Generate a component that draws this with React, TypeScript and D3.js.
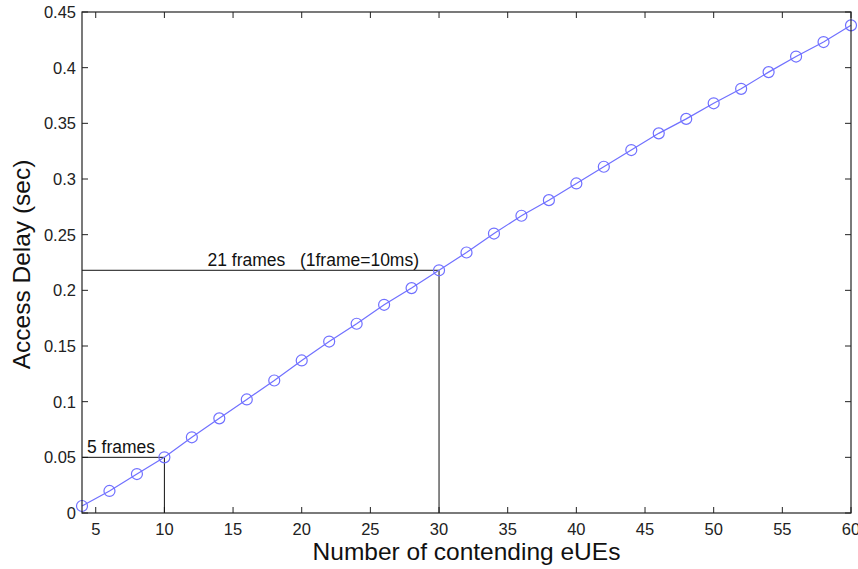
import React from 'react'
import * as d3 from 'd3'

// number of contending eUEs
const eUEs = [4, 6, 8, 10, 12, 14, 16, 18, 20, 22, 24, 26, 28, 30, 32, 34, 36, 38, 40, 42, 44, 46, 48, 50, 52, 54, 56, 58, 60]
// access delay in seconds
const delays = [0.0063, 0.0198, 0.035, 0.05, 0.068, 0.085, 0.102, 0.119, 0.137, 0.154, 0.17, 0.187, 0.202, 0.218, 0.234, 0.251, 0.267, 0.281, 0.296, 0.311, 0.326, 0.341, 0.354, 0.368, 0.381, 0.396, 0.41, 0.423, 0.438]

const xTicks = [5, 10, 15, 20, 25, 30, 35, 40, 45, 50, 55, 60]
const yTicks = [0, 0.05, 0.1, 0.15, 0.2, 0.25, 0.3, 0.35, 0.4, 0.45]

// annotated points: [x, y, label]
const markers: [number, number, string][] = [
  [10, 0.05, '5 frames'],
  [30, 0.218, '21 frames   (1frame=10ms)'],
]

const W = 858
const H = 569
const margin = { top: 12, right: 7, bottom: 56, left: 82 }
const LINE_COLOR = '#7070ff'
const AXIS = '#222222'
const FONT = '"Liberation Sans", Arial, sans-serif'

export default function App() {
  const x = d3.scaleLinear().domain([4, 60]).range([margin.left, W - margin.right])
  const y = d3.scaleLinear().domain([0, 0.45]).range([H - margin.bottom, margin.top])
  const x0 = x(4), x1 = x(60), y0 = y(0), y1 = y(0.45)
  const tick = 6

  const line = d3.line<number>()
    .x((_, i) => x(eUEs[i]))
    .y(d => y(d))

  return (
    <svg width={W} height={H} style={{ position: 'absolute', left: 0, top: 0, background: '#fff', fontFamily: FONT }}>
      {/* ticks, mirrored top/bottom and left/right */}
      {xTicks.map(t => (
        <g key={'x' + t}>
          <line x1={x(t)} x2={x(t)} y1={y0} y2={y0 - tick} stroke={AXIS} />
          <line x1={x(t)} x2={x(t)} y1={y1} y2={y1 + tick} stroke={AXIS} />
          <text x={x(t)} y={y0 + 22} textAnchor="middle" fontSize={16.5} fill="#222">{t}</text>
        </g>
      ))}
      {yTicks.map(t => (
        <g key={'y' + t}>
          <line x1={x0} x2={x0 + tick} y1={y(t)} y2={y(t)} stroke={AXIS} />
          <line x1={x1} x2={x1 - tick} y1={y(t)} y2={y(t)} stroke={AXIS} />
          <text x={x0 - 6} y={y(t) + 6} textAnchor="end" fontSize={16.5} fill="#222">{String(t)}</text>
        </g>
      ))}

      {/* annotation guides */}
      {markers.map(([mx, my, label]) => (
        <g key={label}>
          <line x1={x0} x2={x(mx)} y1={y(my)} y2={y(my)} stroke="#111" />
          <line x1={x(mx)} x2={x(mx)} y1={y(my)} y2={y0} stroke="#111" />
          <text
            x={mx === 10 ? x0 + 5 : x(mx) - 20}
            y={y(my) - 4}
            textAnchor={mx === 10 ? 'start' : 'end'}
            fontSize={17.5}
            fill="#111"
            style={{ whiteSpace: 'pre' }}
          >{label}</text>
        </g>
      ))}

      {/* series */}
      <path d={line(delays) ?? ''} fill="none" stroke={LINE_COLOR} strokeWidth={1.2} />
      {delays.map((d, i) => (
        <circle key={i} cx={x(eUEs[i])} cy={y(d)} r={5.5} fill="none" stroke={LINE_COLOR} strokeWidth={1.2} />
      ))}

      {/* frame */}
      <rect x={x0} y={y1} width={x1 - x0} height={y0 - y1} fill="none" stroke={AXIS} strokeWidth={1.2} />

      <text x={(x0 + x1) / 2} y={H - 9} textAnchor="middle" fontSize={24.5} fill="#111">Number of contending eUEs</text>
      <text transform={`translate(30,${(y0 + y1) / 2 + 2}) rotate(-90)`} textAnchor="middle" fontSize={24.5} fill="#111">Access Delay (sec)</text>
    </svg>
  )
}
